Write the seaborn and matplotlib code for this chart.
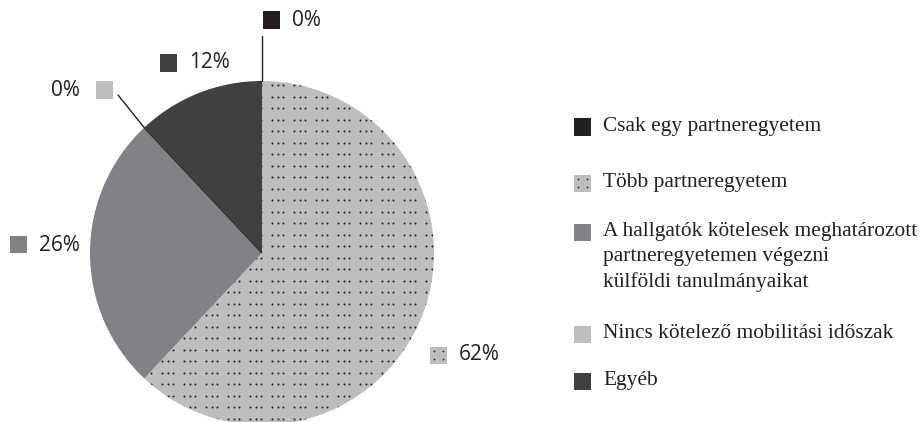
import os
import numpy as np
import matplotlib
matplotlib.use("Agg")
import matplotlib.pyplot as plt
from matplotlib import font_manager as fm
from matplotlib.patches import Rectangle
from matplotlib.lines import Line2D
import seaborn as sns

# Mobility arrangement shares (%)
categories = [
    "Csak egy partneregyetem",
    "Több partneregyetem",
    "A hallgatók kötelesek meghatározott\npartneregyetemen végezni\nkülföldi tanulmányaikat",
    "Nincs kötelező mobilitási időszak",
    "Egyéb",
]
shares = [0, 62, 26, 0, 12]
colors = ["#231f20", "#bcbec0", "#808285", "#bcbec0", "#404041"]
dotted = [False, True, False, False, False]

sns.set_theme(style="white")

W, H = 924, 422
fig = plt.figure(figsize=(W / 100, H / 100), dpi=100)


def pick_font(name, size):
    """Regular upright face of an installed family, by file."""
    cands = [f for f in fm.fontManager.ttflist if f.name == name]

    def score(f):
        s = 0
        if f.style != "normal":
            s += 10
        if f.weight not in (400, "normal", "regular", "book"):
            s += 5
        if f.stretch != "normal":
            s += 5
        base = os.path.basename(f.fname).lower()
        if "condensed" in base or "narrow" in base:
            s += 8
        if "regular" in base:
            s -= 1
        return s

    if not cands:
        return fm.FontProperties(family=name, size=size)
    cands.sort(key=score)
    return fm.FontProperties(fname=cands[0].fname, size=size)


def fx(x):
    return x / W


def fy(y):
    return 1 - y / H


cx, cy, r = 262, 253, 172
ax = fig.add_axes([fx(cx - r), fy(cy + r), 2 * r / W, 2 * r / H])
wedges, _ = ax.pie(shares, colors=colors, startangle=90, counterclock=False,
                   wedgeprops=dict(linewidth=0))
for w, v in zip(wedges, shares):
    if v == 0:
        w.set_edgecolor("#231f20")
        w.set_linewidth(1.0)
ax.set_xlim(-1, 1)
ax.set_ylim(-1, 1)
ax.set_aspect("equal")
ax.axis("off")

# dotted texture (rows of dot triplets) clipped to the patterned slice
unit = 1 / r
gx, gy = [], []
for yy in np.arange(-r + 4, r, 11.5):
    for xx in np.arange(6, 2 * r, 22):
        for k in range(3):
            gx.append((xx - r + 5.5 * k) * unit)
            gy.append(-yy * unit)
for w, d in zip(wedges, dotted):
    if d:
        pts = ax.scatter(gx, gy, s=2.2, color="#262626", linewidths=0,
                         zorder=3)
        pts.set_clip_path(w)

pct_font = pick_font("Open Sans", 15)
# (swatch left x, swatch centre y, text side) for each value label
label_pos = [
    (263, 20, "right"),
    (430, 355, "right"),
    (10, 245, "right"),
    (96, 90, "left"),
    (160, 63, "right"),
]
sq = 17


def swatch(x, y, c, d):
    rect = Rectangle((fx(x), fy(y + sq / 2)), sq / W, sq / H,
                     transform=fig.transFigure, facecolor=c,
                     edgecolor="none", linewidth=0)
    fig.patches.append(rect)
    if d:
        xs = [fx(x + 4), fx(x + 13), fx(x + 4), fx(x + 13)]
        ys = [fy(y - 4), fy(y - 4), fy(y + 4), fy(y + 4)]
        fig.add_artist(Line2D(xs, ys, transform=fig.transFigure, ls="none",
                              marker="o", markersize=1.3, color="#262626",
                              markeredgewidth=0))


for (sx, sy, side), v, c, d in zip(label_pos, shares, colors, dotted):
    swatch(sx, sy, c, d)
    if side == "right":
        fig.text(fx(sx + sq + 12), fy(sy), f"{v}%", ha="left", va="center",
                 fontproperties=pct_font, color="#231f20")
    else:
        fig.text(fx(sx - 16), fy(sy), f"{v}%", ha="right", va="center",
                 fontproperties=pct_font, color="#231f20")

# leader lines for the zero-width slices
for i, (sx, sy, side) in enumerate(label_pos):
    if shares[i] != 0:
        continue
    ang = np.deg2rad(wedges[i].theta1)
    ex, ey = cx + r * np.cos(ang), cy - r * np.sin(ang)
    if side == "right":
        start = (ex, sy + 16)
    else:
        start = (sx + sq + 5, sy + 5)
    fig.add_artist(Line2D([fx(start[0]), fx(ex)], [fy(start[1]), fy(ey)],
                          transform=fig.transFigure, color="#231f20", lw=1.0))

# legend
leg_font = pick_font("Liberation Serif", 15.4)
leg_rows = [127, 183, 232, 334, 381]
for name, c, d, y in zip(categories, colors, dotted, leg_rows):
    swatch(574, y, c, d)
    fig.text(fx(603), fy(y - 10), name, ha="left", va="top",
             linespacing=1.42, fontproperties=leg_font, color="#231f20")

fig.savefig("out.png", dpi=100)
